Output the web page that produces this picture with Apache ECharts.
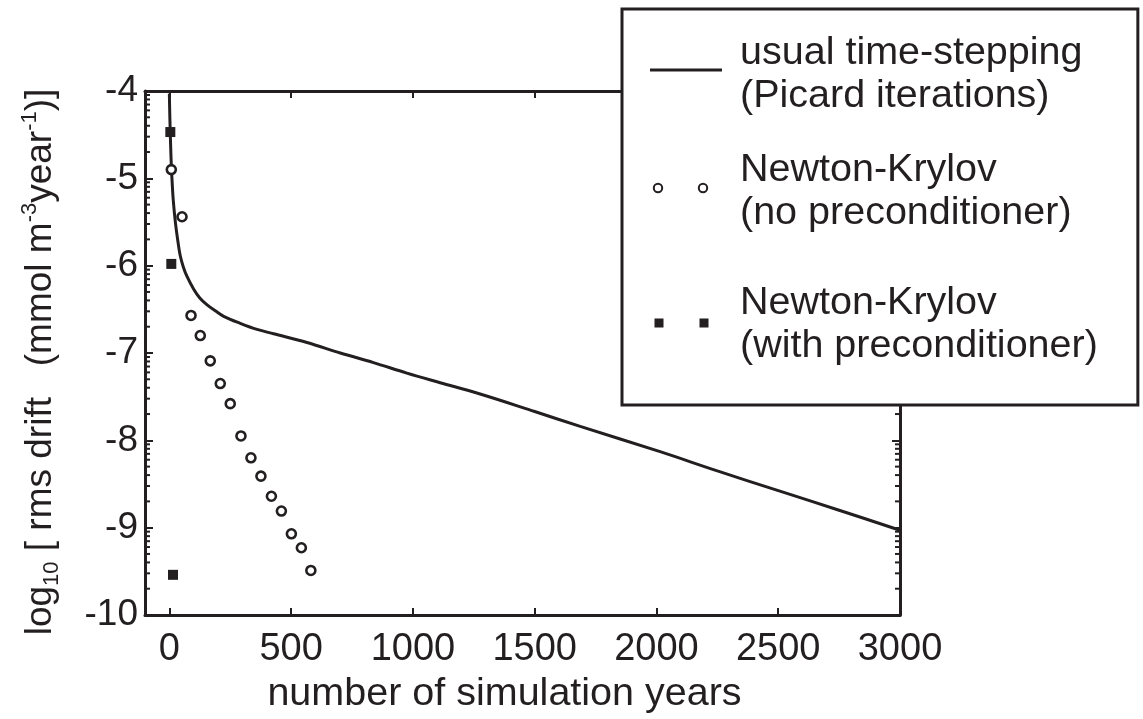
<!DOCTYPE html>
<html><head><meta charset="utf-8">
<script src="https://cdn.jsdelivr.net/npm/echarts@6/dist/echarts.min.js"></script>
<style>html,body{margin:0;padding:0;background:#fff}#c{width:1143px;height:719px}</style>
</head><body><div id="c"></div>
<script>
// ---- data ----
const xTickValues = [0, 500, 1000, 1500, 2000, 2500, 3000];
const yTickValues = [-10, -9, -8, -7, -6, -5, -4];
const minorMantissas = [2, 3, 4, 5, 6, 7, 8, 9];

const picardYears = [0, 2, 5, 8, 11, 16, 25, 35, 45, 58, 72, 100, 125, 155, 190, 223, 291, 360, 428, 565, 702, 838, 975, 1112, 1276, 1500, 1687, 2015, 2250, 2494, 2750, 3000];
const picardDrift = [-4.03, -4.3, -4.6, -4.85, -5.02, -5.25, -5.51, -5.72, -5.89, -6.02, -6.12, -6.27, -6.37, -6.45, -6.52, -6.58, -6.66, -6.73, -6.78, -6.88, -7.0, -7.11, -7.23, -7.34, -7.47, -7.67, -7.84, -8.13, -8.35, -8.57, -8.80, -9.03];

const nkYears = [8, 52, 89, 127, 168, 209, 250, 294, 335, 376, 419, 460, 501, 542, 581];
const nkDrift = [-4.90, -5.44, -6.57, -6.80, -7.09, -7.35, -7.58, -7.95, -8.20, -8.41, -8.64, -8.81, -9.07, -9.23, -9.49];

const nkpYears = [4, 8, 15];
const nkpDrift = [-4.47, -5.98, -9.54];

const legendLines = [
  ['usual time-stepping', '(Picard iterations)'],
  ['Newton-Krylov', '(no preconditioner)'],
  ['Newton-Krylov', '(with preconditioner)']
];

// ---- style constants ----
const INK = '#231f20';
const X_MIN = -100, X_MAX = 3000, Y_MIN = -10, Y_MAX = -4;
const FONT = 'Liberation Sans, Arial, Helvetica, sans-serif';

const zip = (a, b) => a.map((v, i) => [v, b[i]]);
const minorData = [];
for (let k = Y_MIN; k < Y_MAX; k++) {
  minorMantissas.forEach(m => minorData.push([X_MIN, k + Math.log10(m)]));
}

const names = legendLines.map(l => l.join(' '));

// legend icons (85 x 24 box, with tiny corner specks to fix the bounding box)
const speck = 'M0,0 L0.01,0 L0.01,0.01 Z M84.99,23.99 L85,23.99 L85,24 Z ';
function ring(cx, cy, r1, r2) {
  return `M${cx - r1},${cy} A${r1},${r1} 0 1,1 ${cx + r1},${cy} A${r1},${r1} 0 1,1 ${cx - r1},${cy} Z ` +
         `M${cx - r2},${cy} A${r2},${r2} 0 1,0 ${cx + r2},${cy} A${r2},${r2} 0 1,0 ${cx - r2},${cy} Z `;
}
function sq(cx, cy, h) {
  return `M${cx - h},${cy - h} L${cx + h},${cy - h} L${cx + h},${cy + h} L${cx - h},${cy + h} Z `;
}
const iconLine = 'path://' + speck + 'M0,6 L72,6 L72,9 L0,9 Z';
const iconCircles = 'path://' + speck + ring(8, 8.5, 5.2, 3.2) + ring(53, 8.5, 5.2, 3.2);
const iconSquares = 'path://' + speck + sq(9, 18.5, 4.5) + sq(54, 18.5, 4.5);

const chart = echarts.init(document.getElementById('c'), null, {renderer: 'canvas'});
const option = {
  backgroundColor: '#fff',
  animation: false,
  textStyle: {fontFamily: FONT, color: INK},
  grid: {left: 145, right: 243, top: 91, bottom: 104, containLabel: false, outerBoundsMode: 'none'},
  xAxis: [{
    type: 'value', position: 'bottom', min: X_MIN, max: X_MAX,
    axisLine: {onZero: false, lineStyle: {color: INK, width: 3}},
    axisTick: {inside: true, length: 7, lineStyle: {color: INK, width: 2}, customValues: xTickValues},
    axisLabel: {customValues: xTickValues, fontSize: 38, margin: 16, color: INK, fontFamily: FONT,
      formatter: v => String(v)},
    splitLine: {show: false},
    name: 'number of simulation years', nameLocation: 'middle', nameGap: 51,
    nameTextStyle: {fontSize: 39.5, color: INK, fontFamily: FONT, padding: [0, 36, 0, 0]}
  }, {
    type: 'value', position: 'top', min: X_MIN, max: X_MAX,
    axisLine: {onZero: false, lineStyle: {color: INK, width: 3}},
    axisTick: {inside: true, length: 7, lineStyle: {color: INK, width: 2}, customValues: xTickValues},
    axisLabel: {show: false}, splitLine: {show: false}
  }],
  yAxis: [{
    type: 'value', position: 'left', min: Y_MIN, max: Y_MAX, interval: 1,
    axisLine: {onZero: false, lineStyle: {color: INK, width: 3}},
    axisTick: {inside: true, length: 8, lineStyle: {color: INK, width: 2}},
    axisLabel: {fontSize: 37, margin: 7, color: INK, fontFamily: FONT, formatter: v => String(v)},
    splitLine: {show: false},
    name: '{n|log}{sub|10}{n| [ rms drift   (mmol m}{sup|-3}{n|year}{sup|-1}{n|)]}',
    nameLocation: 'middle', nameGap: 82,
    nameTextStyle: {
      fontFamily: FONT, color: INK, padding: [0, 18, 0, 0],
      rich: {
        n: {fontSize: 37, lineHeight: 44, fontFamily: FONT, color: INK},
        sub: {fontSize: 22, lineHeight: 44, verticalAlign: 'bottom', fontFamily: FONT, color: INK},
        sup: {fontSize: 22, lineHeight: 44, verticalAlign: 'top', fontFamily: FONT, color: INK}
      }
    }
  }, {
    type: 'value', position: 'right', min: Y_MIN, max: Y_MAX, interval: 1,
    axisLine: {onZero: false, lineStyle: {color: INK, width: 3}},
    axisTick: {inside: true, length: 8, lineStyle: {color: INK, width: 2}},
    axisLabel: {show: false}, splitLine: {show: false}
  }],
  legend: {
    orient: 'vertical', left: 622, top: 9,
    padding: [22.5, 40, 37.5, 28],
    itemGap: 31, itemWidth: 85, itemHeight: 24,
    backgroundColor: '#fff', borderColor: INK, borderWidth: 3, borderRadius: 0,
    selectedMode: false,
    itemStyle: {borderWidth: 0, opacity: 1},
    textStyle: {
      fontFamily: FONT, color: INK, fontSize: 39.5, lineHeight: 43,
      rich: {
        l: {fontSize: 39.5, lineHeight: 43, fontFamily: FONT, color: INK},
        g: {fontSize: 2, lineHeight: 16}
      }
    },
    formatter: function (name) {
      const i = names.indexOf(name);
      const lines = legendLines[i];
      const body = '{l|' + lines[0] + '}\n{l|' + lines[1] + '}';
      return i === 2 ? '{g| }\n' + body : body;
    },
    data: [
      {name: names[0], icon: iconLine, itemStyle: {color: INK, borderWidth: 0, opacity: 1}},
      {name: names[1], icon: iconCircles, itemStyle: {color: INK, borderWidth: 0, opacity: 1}},
      {name: names[2], icon: iconSquares, itemStyle: {color: INK, borderWidth: 0, opacity: 1}}
    ]
  },
  series: [{
    name: names[0], type: 'line', data: zip(picardYears, picardDrift),
    showSymbol: false, symbol: 'none', smooth: 0.35,
    lineStyle: {color: INK, width: 3}, itemStyle: {color: INK}, z: 3
  }, {
    name: names[1], type: 'scatter', data: zip(nkYears, nkDrift),
    symbol: 'circle', symbolSize: 9,
    itemStyle: {color: '#fff', borderColor: INK, borderWidth: 2.6, opacity: 1}, z: 4
  }, {
    name: names[2], type: 'scatter', data: zip(nkpYears, nkpDrift),
    symbol: 'rect', symbolSize: 10,
    itemStyle: {color: INK, borderWidth: 0, opacity: 1}, z: 4
  }, {
    type: 'custom', data: minorData, silent: true, z: 2, clip: false,
    renderItem: function (params, api) {
      const v = api.value(1);
      const pL = api.coord([X_MIN, v]);
      const pR = api.coord([X_MAX, v]);
      return {
        type: 'group', children: [
          {type: 'line', shape: {x1: pL[0], y1: pL[1], x2: pL[0] + 5, y2: pL[1]}, style: {stroke: INK, lineWidth: 2}},
          {type: 'line', shape: {x1: pR[0], y1: pR[1], x2: pR[0] - 5, y2: pR[1]}, style: {stroke: INK, lineWidth: 2}}
        ]
      };
    }
  }]
};
chart.setOption(option);
</script>
</body></html>
